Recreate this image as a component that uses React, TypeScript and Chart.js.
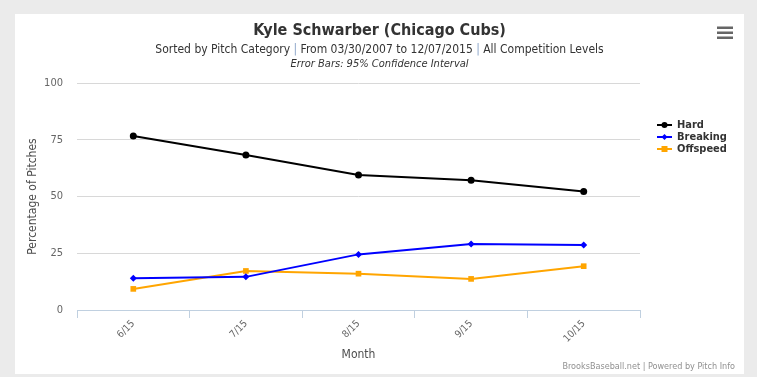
import React, { useEffect, useRef } from "react";
import { Chart, registerables } from "chart.js";

Chart.register(...registerables);

const months = ["6/15", "7/15", "8/15", "9/15", "10/15"];
const hard = [76.7, 68.3, 59.5, 57.2, 52.2];
const breaking = [14.0, 14.6, 24.5, 29.1, 28.6];
const offspeed = [9.3, 17.2, 16.0, 13.7, 19.3];
const yTicks = [0, 25, 50, 75, 100];

const titleText = "Kyle Schwarber (Chicago Cubs)";
const subtitleParts = ["Sorted by Pitch Category", "From 03/30/2007 to 12/07/2015", "All Competition Levels"];
const subtitle2 = "Error Bars: 95% Confidence Interval";
const credits = "BrooksBaseball.net | Powered by Pitch Info";

const FONT = '"DejaVu Sans Condensed", "Liberation Sans Narrow", "Liberation Sans", sans-serif';

const decorPlugin = {
  id: "decor",
  beforeDraw(chart: any) {
    const ctx = chart.ctx;
    ctx.save();
    ctx.fillStyle = "#ebebeb";
    ctx.fillRect(0, 0, chart.width, chart.height);
    ctx.fillStyle = "#ffffff";
    ctx.fillRect(15, 14, 729, 360);
    ctx.restore();
  },
  afterDraw(chart: any) {
    const ctx = chart.ctx;
    const cx = 379.5;
    ctx.save();
    ctx.textBaseline = "middle";
    // title
    ctx.font = `bold 16px ${FONT}`;
    ctx.fillStyle = "#333333";
    ctx.textAlign = "center";
    ctx.fillText(titleText, cx, 31);
    // subtitle with separators
    ctx.font = `12px ${FONT}`;
    const sep = " | ";
    const widths = subtitleParts.map((p) => ctx.measureText(p).width);
    const sepW = ctx.measureText(sep).width;
    const total = widths.reduce((a, b) => a + b, 0) + sepW * (subtitleParts.length - 1);
    let x = cx - total / 2;
    ctx.textAlign = "left";
    subtitleParts.forEach((p, i) => {
      ctx.fillStyle = "#333333";
      ctx.fillText(p, x, 50);
      x += widths[i];
      if (i < subtitleParts.length - 1) {
        ctx.fillStyle = "#8aa4c8";
        ctx.fillText(sep, x, 50);
        x += sepW;
      }
    });
    ctx.font = `italic 11px ${FONT}`;
    ctx.fillStyle = "#333333";
    ctx.textAlign = "center";
    ctx.fillText(subtitle2, cx, 64);
    // legend
    const items = [
      { label: "Hard", color: "#000000", style: "circle" },
      { label: "Breaking", color: "#0000ff", style: "diamond" },
      { label: "Offspeed", color: "#ffa500", style: "square" },
    ];
    ctx.font = `bold 11px ${FONT}`;
    items.forEach((it, i) => {
      const y = 125 + i * 12;
      const mx = 664.5;
      ctx.strokeStyle = it.color;
      ctx.lineWidth = 2;
      ctx.beginPath();
      ctx.moveTo(657, y);
      ctx.lineTo(672, y);
      ctx.stroke();
      ctx.fillStyle = it.color;
      ctx.beginPath();
      if (it.style === "circle") {
        ctx.arc(mx, y, 3, 0, Math.PI * 2);
      } else if (it.style === "diamond") {
        ctx.moveTo(mx, y - 3);
        ctx.lineTo(mx + 3, y);
        ctx.lineTo(mx, y + 3);
        ctx.lineTo(mx - 3, y);
        ctx.closePath();
      } else {
        ctx.rect(mx - 3, y - 3, 6, 6);
      }
      ctx.fill();
      ctx.fillStyle = "#333333";
      ctx.textAlign = "left";
      ctx.fillText(it.label, 677, y + 0.5);
    });
    // hamburger menu
    ctx.fillStyle = "#666666";
    for (let i = 0; i < 3; i++) {
      ctx.fillRect(717, 26.5 + i * 5, 16, 2.5);
    }
    // credits
    ctx.font = `9px ${FONT}`;
    ctx.fillStyle = "#909090";
    ctx.textAlign = "right";
    ctx.fillText(credits, 735, 367);
    ctx.restore();
  },
};

export default function App() {
  const ref = useRef<HTMLCanvasElement | null>(null);
  useEffect(() => {
    document.body.style.margin = "0";
    if (!ref.current) return;
    const chart = new Chart(ref.current, {
      type: "line",
      data: {
        labels: months,
        datasets: [
          {
            label: "Hard",
            data: hard,
            borderColor: "#000000",
            backgroundColor: "#000000",
            borderWidth: 2,
            pointStyle: "circle",
            pointRadius: 3.5,
            pointBorderWidth: 0,
          },
          {
            label: "Breaking",
            data: breaking,
            borderColor: "#0000ff",
            backgroundColor: "#0000ff",
            borderWidth: 2,
            pointStyle: "rectRot",
            pointRadius: 3.5,
            pointBorderWidth: 0,
          },
          {
            label: "Offspeed",
            data: offspeed,
            borderColor: "#ffa500",
            backgroundColor: "#ffa500",
            borderWidth: 2,
            pointStyle: "rect",
            pointRadius: 4,
            pointBorderWidth: 0,
          },
        ],
      },
      options: {
        responsive: false,
        animation: false,
        layout: { padding: { left: 20, right: 117, top: 83, bottom: 0 } },
        plugins: {
          legend: { display: false },
          title: { display: false },
          tooltip: { enabled: false },
        },
        scales: {
          x: {
            offset: true,
            grid: {
              offset: true,
              drawOnChartArea: false,
              drawTicks: true,
              tickLength: 8,
              color: "#c0d0e0",
            },
            border: { display: true, color: "#c0d0e0", width: 1 },
            ticks: {
              minRotation: 45,
              maxRotation: 45,
              color: "#666666",
              font: { family: FONT, size: 10 },
              padding: 0,
            },
            title: {
              display: true,
              text: "Month",
              color: "#4d4d4d",
              font: { family: FONT, size: 12 },
              padding: { top: 0, bottom: 15 },
            },
            afterFit(scale: any) {
              scale.height = 67;
            },
          },
          y: {
            min: 0,
            max: 100,
            afterBuildTicks(scale: any) {
              scale.ticks = yTicks.map((v) => ({ value: v }));
            },
            grid: { color: "#d8d8d8", drawTicks: false },
            border: { display: false },
            ticks: {
              color: "#666666",
              font: { family: FONT, size: 11 },
              padding: 14,
            },
            title: {
              display: true,
              text: "Percentage of Pitches",
              color: "#4d4d4d",
              font: { family: FONT, size: 12 },
              padding: { top: 6, bottom: 0 },
            },
            afterFit(scale: any) {
              scale.width = 57;
            },
          },
        },
      },
      plugins: [decorPlugin],
    });
    return () => chart.destroy();
  }, []);
  return <canvas ref={ref} width={757} height={377} style={{ display: "block" }} />;
}
